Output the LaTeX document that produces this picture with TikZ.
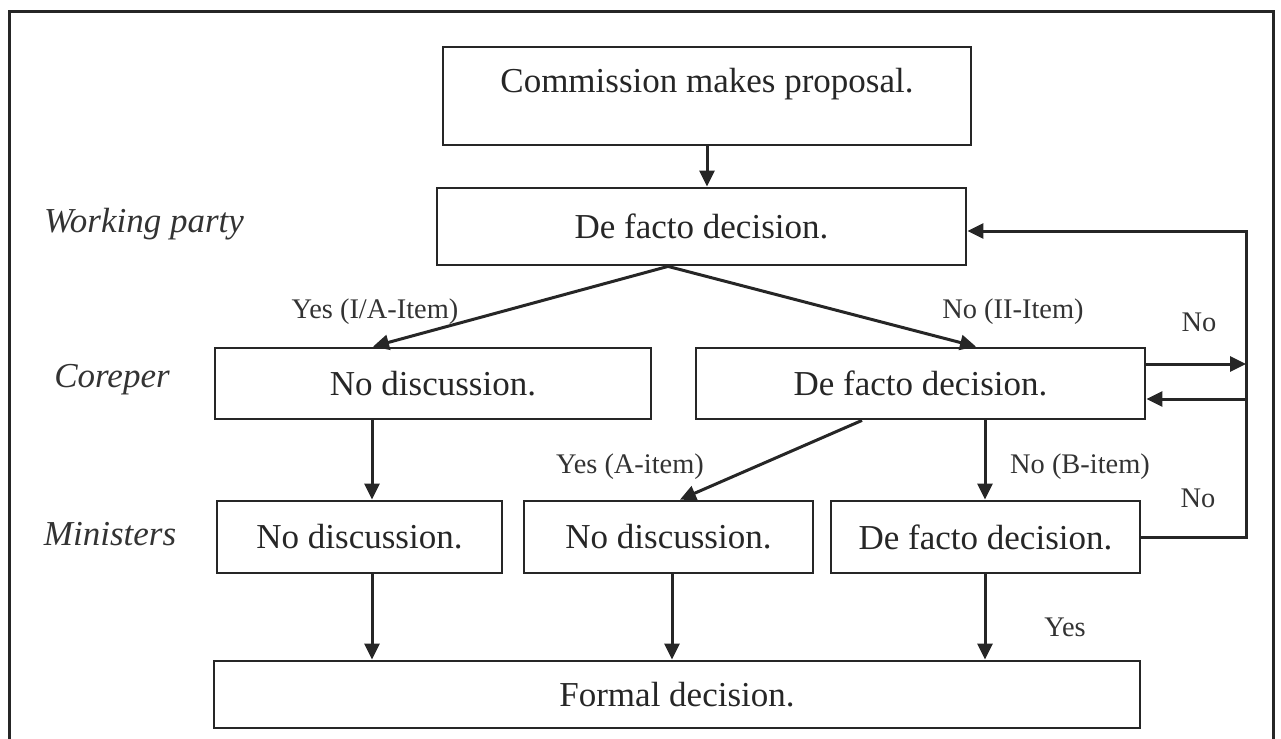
\documentclass[tikz,border=0pt]{standalone}
\usepackage{fontspec}
\setmainfont{Liberation Serif}
\usetikzlibrary{arrows.meta,calc}
\begin{document}
\begin{tikzpicture}[x=0.5pt,y=-0.5pt,
  line/.style={draw=black!85, line width=1.5pt},
  arr/.style={line, -{Triangle[length=8pt,width=7.5pt]}},
  box/.style={draw=black!85, line width=1.4pt, inner sep=0pt, font=\fontsize{17.5}{21}\selectfont, text=black!85},
  lane/.style={font=\fontsize{17.5}{21}\selectfont\itshape, text=black!80, inner sep=0pt},
  lab/.style={font=\fontsize{14.2}{17}\selectfont, text=black!80, inner sep=0pt},
]
\useasboundingbox (0,0) rectangle (1281,739);
\draw[line width=1.5pt, black!85] (9,739) -- (9,11) -- (1273,11) -- (1273,739);

\node[box, minimum width=264pt, text height=22.5pt, text depth=26.5pt, anchor=base] (cm) at (707,92) {Commission makes proposal.};
\node[box, minimum width=264.5pt, minimum height=38.5pt] (wp) at (701.5,226.5) {De facto decision.};
\node[box, minimum width=218pt, minimum height=35.5pt] (cl) at (433,383.5) {No discussion.};
\node[box, minimum width=224.5pt, minimum height=35.5pt] (cr) at (920.5,383.5) {De facto decision.};
\node[box, minimum width=142.5pt, minimum height=36pt] (ml) at (359.5,537) {No discussion.};
\node[box, minimum width=144.5pt, minimum height=36pt] (mm) at (668.5,537) {No discussion.};
\node[box, minimum width=154.5pt, minimum height=36pt] (mr) at (985.5,537) {De facto decision.};
\node[box, minimum width=463pt, minimum height=33.5pt] (fd) at (677,694.5) {Formal decision.};

\node[lane] (lwp) at (144,224) {Working party};
\node[lane] (lco) at (112,380) {Coreper};
\node[lane] (lmi) at (110,534) {Ministers};

\draw[arr] (cm.south) -- (wp.north -| cm.south);
\coordinate (sp) at (wp.south -| 668,0);
\draw[arr] (sp) -- (cl.north -| 373,0);
\draw[arr] (sp) -- (cr.north -| 976,0);
\coordinate (lt) at (1246,231);
\coordinate (lb) at (1246,537);
\draw[arr] (mr.east) -- (lb) -- (lt) -- (wp.east |- lt);
\draw[arr] (cr.east |- 0,364) -- (lt |- 0,364);
\draw[arr] (lt |- 0,399) -- (cr.east |- 0,399);

\draw[arr] (cl.south -| 372,0) -- (ml.north -| 372,0);
\draw[arr] (cr.south -| 862,0) -- (mm.north -| 680,0);
\draw[arr] (cr.south -| 985,0) -- (mr.north -| 985,0);
\draw[arr] (ml.south -| 372,0) -- (fd.north -| 372,0);
\draw[arr] (mm.south -| 672,0) -- (fd.north -| 672,0);
\draw[arr] (mr.south -| 985,0) -- (fd.north -| 985,0);

\node[lab] (l1) at (375,312) {Yes (I/A-Item)};
\node[lab] (l2) at (1013,312) {No (II-Item)};
\node[lab] (l3) at (1199,322) {No};
\node[lab] (l4) at (630,467) {Yes (A-item)};
\node[lab] (l5) at (1080,467) {No (B-item)};
\node[lab] (l6) at (1198,498) {No};
\node[lab] (l7) at (1065,627) {Yes};
\end{tikzpicture}
\end{document}
